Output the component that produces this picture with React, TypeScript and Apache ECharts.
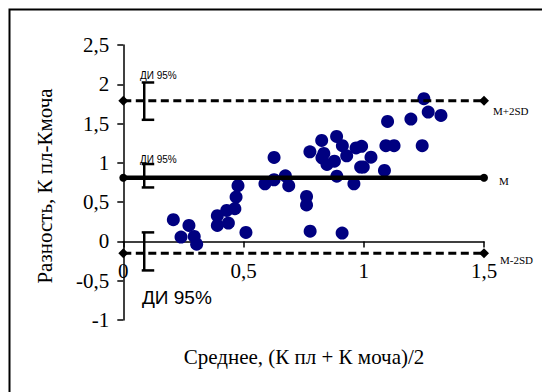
import React, { useEffect, useRef } from "react";
import * as echarts from "echarts";

const pointsX = [0.208, 0.240, 0.273, 0.295, 0.305, 0.391, 0.391, 0.430, 0.437, 0.464, 0.469, 0.477, 0.510, 0.589, 0.627, 0.627, 0.674, 0.688, 0.762, 0.762, 0.776, 0.777, 0.825, 0.826, 0.834, 0.847, 0.878, 0.887, 0.888, 0.910, 0.911, 0.929, 0.959, 0.968, 0.991, 0.987, 0.998, 1.030, 1.086, 1.092, 1.099, 1.126, 1.196, 1.243, 1.250, 1.268, 1.321];
const pointsY = [0.276, 0.056, 0.204, 0.064, -0.035, 0.327, 0.204, 0.395, 0.234, 0.416, 0.565, 0.709, 0.115, 0.734, 0.785, 1.069, 0.835, 0.709, 0.573, 0.465, 1.140, 0.130, 1.285, 1.065, 1.120, 0.980, 1.022, 1.336, 0.830, 0.107, 1.218, 1.090, 0.734, 1.190, 1.210, 0.947, 0.947, 1.072, 0.903, 1.218, 1.527, 1.218, 1.557, 1.218, 1.816, 1.646, 1.603];

const lineX = [0, 1.5];
const meanValue = 0.81;
const upperLimit = 1.79;
const lowerLimit = -0.15;

const ciX = 0.087;
const ciLow = [1.548, 0.687, -0.369];
const ciHigh = [2.023, 0.985, 0.115];

const xTicks = [0, 0.5, 1, 1.5];
const yMin = -1;
const yMax = 2.5;

const fmt = (v: number) => String(v).replace(".", ",");

export default function App() {
  const ref = useRef<HTMLDivElement>(null);
  useEffect(() => {
    if (!ref.current) return;
    const chart = echarts.init(ref.current, null, { renderer: "svg" });
    const serif = "'Liberation Serif', 'Times New Roman', serif";
    const sans = "'Liberation Sans', Arial, sans-serif";
    const scatterData = pointsX.map((x, i) => [x, pointsY[i]]);
    const hline = (v: number) => lineX.map((x) => [x, v]);
    const ciData = ciLow.map((lo, i) => [ciX, lo, ciHigh[i]]);
    const gridTop = 45;
    const gridBottom = 72;
    const gridH = 392 - gridTop - gridBottom;
    const xOffset = -((0 - yMin) / (yMax - yMin)) * gridH;
    chart.setOption({
      animation: false,
      backgroundColor: "#ffffff",
      grid: { left: 123.3, right: 58, top: gridTop, bottom: gridBottom },
      xAxis: {
        type: "value",
        min: xTicks[0],
        max: xTicks[xTicks.length - 1],
        interval: 0.5,
        offset: xOffset,
        splitLine: { show: false },
        axisLine: { onZero: false, lineStyle: { color: "#000", width: 1.5 } },
        axisTick: { show: true, length: 6, lineStyle: { color: "#000", width: 1.5 } },
        axisLabel: {
          color: "#000",
          fontFamily: serif,
          fontSize: 21,
          margin: 19,
          formatter: fmt,
        },
      },
      yAxis: {
        type: "value",
        min: yMin,
        max: yMax,
        interval: 0.5,
        splitLine: { show: false },
        axisLine: { show: true, onZero: false, lineStyle: { color: "#000", width: 1.5 } },
        axisTick: { show: true, length: 6, lineStyle: { color: "#000", width: 1.5 } },
        axisLabel: {
          color: "#000",
          fontFamily: serif,
          fontSize: 21,
          margin: 14,
          formatter: fmt,
        },
      },
      series: [
        {
          type: "scatter",
          data: scatterData,
          symbolSize: 13,
          itemStyle: { color: "#000080", opacity: 1 },
          z: 2,
        },
        {
          type: "line",
          data: hline(upperLimit),
          symbol: "diamond",
          symbolSize: 10,
          itemStyle: { color: "#000" },
          lineStyle: { color: "#000", width: 3, type: [8, 4.5] },
          z: 3,
        },
        {
          type: "line",
          data: hline(meanValue),
          symbol: "circle",
          symbolSize: 8,
          itemStyle: { color: "#000" },
          lineStyle: { color: "#000", width: 4.5 },
          z: 3,
        },
        {
          type: "line",
          data: hline(lowerLimit),
          symbol: "diamond",
          symbolSize: 10,
          itemStyle: { color: "#000" },
          lineStyle: { color: "#000", width: 3, type: [8, 4.5] },
          z: 3,
        },
        {
          type: "custom",
          data: ciData,
          z: 4,
          renderItem: (params: any, api: any) => {
            const x = api.value(0);
            const lo = api.coord([x, api.value(1)]);
            const hi = api.coord([x, api.value(2)]);
            const st = { stroke: "#000", lineWidth: 2.5 };
            return {
              type: "group",
              children: [
                { type: "line", shape: { x1: lo[0], y1: lo[1], x2: hi[0], y2: hi[1] }, style: st },
                { type: "line", shape: { x1: lo[0] - 2.5, y1: lo[1], x2: lo[0] + 10, y2: lo[1] }, style: st },
                { type: "line", shape: { x1: hi[0] - 2.5, y1: hi[1], x2: hi[0] + 10, y2: hi[1] }, style: st },
              ],
            };
          },
        },
      ],
      graphic: [
        {
          type: "rect",
          shape: { x: 9.5, y: 9.5, width: 600, height: 500 },
          style: { fill: "none", stroke: "#000", lineWidth: 2 },
          z: 0,
        },
        {
          type: "text",
          x: 45,
          y: 186,
          rotation: Math.PI / 2,
          style: { text: "Разность, К пл-Кмоча", font: `21px ${serif}`, fill: "#000", textAlign: "center", textVerticalAlign: "middle" },
        },
        {
          type: "text",
          x: 304,
          y: 357,
          style: { text: "Среднее, (К пл + К моча)/2", font: `21px ${serif}`, fill: "#000", textAlign: "center", textVerticalAlign: "middle" },
        },
        {
          type: "text",
          x: 493,
          y: 111,
          style: { text: "M+2SD", font: `11px ${serif}`, fill: "#000", textAlign: "left", textVerticalAlign: "middle" },
        },
        {
          type: "text",
          x: 499,
          y: 181,
          style: { text: "M", font: `11px ${serif}`, fill: "#000", textAlign: "left", textVerticalAlign: "middle" },
        },
        {
          type: "text",
          x: 500,
          y: 260,
          style: { text: "M-2SD", font: `11px ${serif}`, fill: "#000", textAlign: "left", textVerticalAlign: "middle" },
        },
        {
          type: "text",
          x: 140,
          y: 75.5,
          style: { text: "ДИ 95%", font: `10px ${sans}`, fill: "#000", textAlign: "left", textVerticalAlign: "middle" },
        },
        {
          type: "text",
          x: 140,
          y: 159.5,
          style: { text: "ДИ 95%", font: `10px ${sans}`, fill: "#000", textAlign: "left", textVerticalAlign: "middle" },
        },
        {
          type: "text",
          x: 142,
          y: 297.5,
          style: { text: "ДИ 95%", font: `19px ${sans}`, fill: "#000", textAlign: "left", textVerticalAlign: "middle" },
        },
      ],
    });
    return () => chart.dispose();
  }, []);
  return (
    <div
      ref={ref}
      style={{ position: "fixed", left: 0, top: 0, width: 542, height: 392, background: "#fff" }}
    />
  );
}
